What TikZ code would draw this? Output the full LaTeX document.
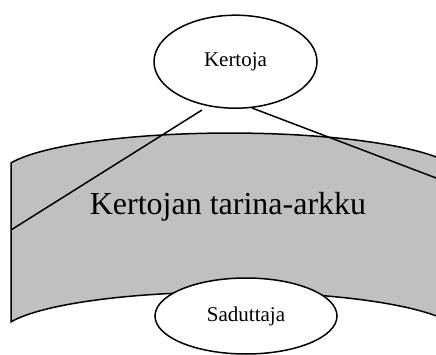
\documentclass[tikz,border=0pt]{standalone}
\usepackage{fontspec}
\setmainfont{Liberation Serif}
\usetikzlibrary{shapes.geometric}
\definecolor{arkkugray}{RGB}{192,192,192}

\begin{document}
\begin{tikzpicture}[x=1pt,y=1pt]
	\tikzset{person/.style={draw,ellipse,fill=white,line width=1.5pt,inner sep=0pt,font=\fontsize{21}{24}\selectfont}}
	\tikzset{edge/.style={line width=1.5pt}}
	
	\useasboundingbox (0,0) rectangle (436,354);
	\clip (0,0) rectangle (436,354);
	
	% tarina-arkku
	\draw[line width=1.5pt,fill=arkkugray] (11,191.1)
		arc[start angle=162.2,end angle=0,x radius=230pt,y radius=43pt]
		-- (460,19)
		arc[start angle=0,end angle=162.2,x radius=230pt,y radius=43pt]
		-- cycle;
	\node(arkku) at (228,147) [font=\fontsize{32}{36}\selectfont] {Kertojan tarina-arkku};
	
	\coordinate(k_l) at (202,244);
	\coordinate(k_r) at (252,246);
	\coordinate(a_l) at (11,124);
	\coordinate(a_r) at (444,173);
	
	\draw[edge] (k_l) -- (a_l);
	\draw[edge] (k_r) -- (a_r);
	
	\node(kertoja) at (235.5,292.3) [person,minimum width=163pt,minimum height=93pt] {Kertoja};
	\node(saduttaja) at (246,38) [person,minimum width=182pt,minimum height=76pt] {Saduttaja};
	
\end{tikzpicture}
\end{document}
